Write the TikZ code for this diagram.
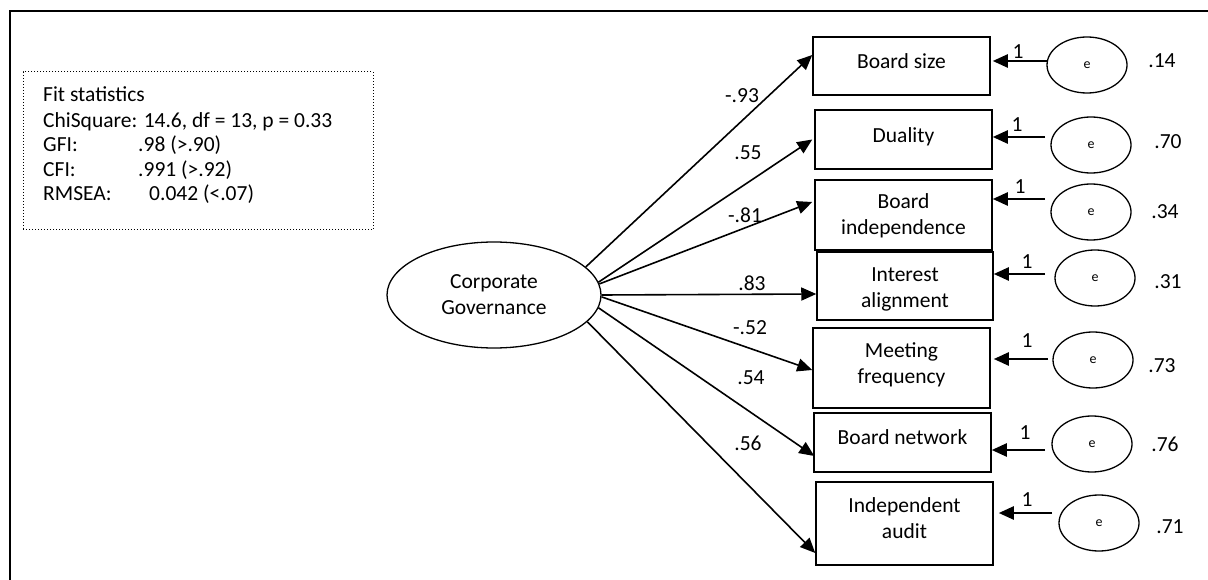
\documentclass[tikz,border=0pt]{standalone}
\usepackage{fontspec}
\setmainfont{Carlito}
\usetikzlibrary{arrows.meta,shapes.geometric}
\begin{document}
\begin{tikzpicture}[x=1pt,y=-1pt,
  every node/.style={font=\fontsize{21.5}{26}\selectfont},
  ind/.style={draw,line width=1.5pt,minimum width=177pt,inner sep=0pt,align=center},
  txt/.style={inner sep=0pt,align=center},
  err/.style={draw,ellipse,line width=1.3pt,minimum width=80pt,minimum height=56pt,inner sep=0pt,font=\fontsize{14}{16}\selectfont},
  load/.style={line width=1.6pt,-{Triangle[length=15pt,width=13pt]}},
  erra/.style={line width=2.4pt,-{Triangle[length=15pt,width=13pt]}},
  lbl/.style={inner sep=0pt}
]
\useasboundingbox (0,0) rectangle (1208,580);
% outer frame (open)
\draw[line width=2.5pt] (10,580) -- (10,11) -- (1208,11);
% fit statistics box
\node[draw,dotted,line width=1pt,minimum width=350pt,minimum height=158pt,inner sep=0pt] (fit) at (198,151) {};
\node[lbl,anchor=base west] (f1) at (43,102) {Fit statistics};
\node[lbl,anchor=base west] (f2) at (43,128) {ChiSquare: 14.6, df = 13, p = 0.33};
\node[lbl,anchor=base west] (f3) at (43,152) {GFI:};
\node[lbl,anchor=base west] (f3v) at (138,152) {.98 (>.90)};
\node[lbl,anchor=base west] (f4) at (43,177) {CFI:};
\node[lbl,anchor=base west] (f4v) at (138,177) {.991 (>.92)};
\node[lbl,anchor=base west] (f5) at (43,201) {RMSEA:};
\node[lbl,anchor=base west] (f5v) at (149,201) {0.042 (<.07)};
% latent
\node[draw,ellipse,line width=1.3pt,minimum width=214pt,minimum height=106pt,inner sep=0pt,align=center] (cg) at (494,295) {Corporate\\Governance};
% indicators
\node[ind,minimum height=58pt] (b1) at (901.5,66) {};
\node[ind,minimum height=59pt] (b2) at (903.5,139.5) {};
\node[ind,minimum height=70pt] (b3) at (903.5,215) {};
\node[ind,minimum height=68pt,minimum width=176pt] (b4) at (905,286) {};
\node[ind,minimum height=80pt] (b5) at (901.5,368) {};
\node[ind,minimum height=59pt] (b6) at (902.5,442.5) {};
\node[ind,minimum height=83pt] (b7) at (904.5,523.5) {};
\node[txt] (t1) at (901.5,61) {Board size};
\node[txt] (t2) at (903.5,137) {Duality};
\node[txt] (t3) at (903.5,216) {Board\\independence};
\node[txt] (t4) at (905,289) {Interest\\alignment};
\node[txt] (t5) at (901.5,365) {Meeting\\frequency};
\node[txt] (t6) at (902.5,437) {Board network};
\node[txt] (t7) at (904.5,518.5) {Independent\\audit};
% error ellipses
\node[err] (e1) at (1087,65) {e};
\node[err] (e2) at (1091,145) {e};
\node[err] (e3) at (1091,212) {e};
\node[err] (e4) at (1095,278) {e};
\node[err] (e5) at (1093,360) {e};
\node[err] (e6) at (1092,444) {e};
\node[err] (e7) at (1099,523) {e};
% variances
\node[lbl] (v1) at (1162,61) {.14};
\node[lbl] (v2) at (1168,142) {.70};
\node[lbl] (v3) at (1165,212) {.34};
\node[lbl] (v4) at (1168,282) {.31};
\node[lbl] (v5) at (1162,366) {.73};
\node[lbl] (v6) at (1165,444) {.76};
\node[lbl] (v7) at (1170,527) {.71};
% error arrow starts
\coordinate (s1) at (1047,61);
\coordinate (s2) at (1045,137);
\coordinate (s3) at (1045,199);
\coordinate (s4) at (1045,274);
\coordinate (s5) at (1048,359);
\coordinate (s6) at (1045,450);
\coordinate (s7) at (1052,513);
\draw[erra] (s1) -- ([xshift=2pt]b1.east |- s1);
\draw[erra] (s2) -- (b2.east |- s2);
\draw[erra] (s3) -- (b3.east |- s3);
\draw[erra] (s4) -- (b4.east |- s4);
\draw[erra] (s5) -- ([xshift=3pt]b5.east |- s5);
\draw[erra] (s6) -- (b6.east |- s6);
\draw[erra] (s7) -- ([xshift=5pt]b7.east |- s7);
\node[lbl] (o1) at (1018,52) {1};
\node[lbl] (o2) at (1017,125) {1};
\node[lbl] (o3) at (1020,187) {1};
\node[lbl] (o4) at (1027,262) {1};
\node[lbl] (o5) at (1027,341) {1};
\node[lbl] (o6) at (1025,433) {1};
\node[lbl] (o7) at (1027,500) {1};
% loadings
\draw[load] (cg.17) -- ([yshift=11pt]b1.west);
\draw[load] (cg.7) -- ([xshift=-2pt]b2.west);
\draw[load] (cg.6) -- ([xshift=-2pt,yshift=13pt]b3.west);
\draw[load] (cg.0) -- ([yshift=-8pt]b4.west);
\draw[load] (cg.-1) -- ([yshift=-2pt]b5.west);
\draw[load] (cg.-7) -- ([xshift=1pt,yshift=-13.5pt]b6.west);
\draw[load] (cg.-16) -- ([yshift=-29.5pt]b7.west);
\node[lbl] (l1) at (742,96) {-.93};
\node[lbl] (l2) at (748,153) {.55};
\node[lbl] (l3) at (745,215) {-.81};
\node[lbl] (l4) at (752,283) {.83};
\node[lbl] (l5) at (750,328) {-.52};
\node[lbl] (l6) at (751,378) {.54};
\node[lbl] (l7) at (748,443) {.56};
\end{tikzpicture}
\end{document}
